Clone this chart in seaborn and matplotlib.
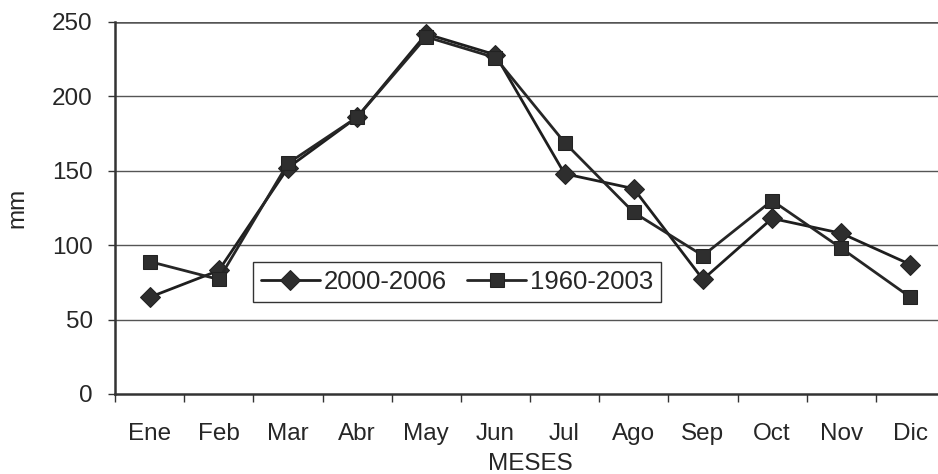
import matplotlib
matplotlib.use("Agg")
import matplotlib.pyplot as plt
import seaborn as sns
import pandas as pd
import numpy as np

meses = ["Ene", "Feb", "Mar", "Abr", "May", "Jun", "Jul", "Ago", "Sep", "Oct", "Nov", "Dic"]
serie_2000_2006 = [65, 83, 152, 186, 242, 228, 148, 138, 77, 118, 108, 87]
serie_1960_2003 = [89, 77, 155, 186, 240, 226, 169, 122, 93, 130, 98, 65]
etiquetas = ["2000-2006", "1960-2003"]
yticks = [0, 50, 100, 150, 200, 250]

sns.set_style("white")
plt.rcParams["font.family"] = ["Liberation Sans", "DejaVu Sans"]

df = pd.DataFrame({
    "mes": meses * 2,
    "pos": list(range(12)) * 2,
    "mm": serie_2000_2006 + serie_1960_2003,
    "serie": [etiquetas[0]] * 12 + [etiquetas[1]] * 12,
})

fig = plt.figure(figsize=(9.38, 4.74), dpi=100)
ax = fig.add_axes([115 / 938, 1 - 394 / 474, 830 / 938, 372 / 474])

sns.lineplot(
    data=df, x="pos", y="mm", hue="serie", style="serie",
    hue_order=etiquetas, style_order=etiquetas,
    palette={etiquetas[0]: "#1e1e1e", etiquetas[1]: "#262626"},
    markers={etiquetas[0]: "D", etiquetas[1]: "s"},
    dashes=False, linewidth=2.0, markersize=10,
    markeredgecolor="#222222", ax=ax, legend=True,
)
for ln in ax.lines:
    ln.set_markerfacecolor("#2e2e2e")

ax.set_xlim(-0.5, 11.5)
ax.set_ylim(0, 250)
ax.set_yticks(yticks)
ax.set_xticks(range(12))
ax.set_xticklabels(meses)
ax.set_xticks(np.arange(-0.5, 12, 1), minor=True)
ax.tick_params(axis="x", which="major", length=0, pad=21, labelsize=17.5)
ax.tick_params(axis="x", which="minor", length=6, width=1, color="#333333", direction="out", bottom=True)
ax.tick_params(axis="y", which="major", length=5, width=1, color="#333333", direction="out", left=True, pad=11, labelsize=17.5)

for y in yticks[1:]:
    ax.axhline(y, color="#555555", linewidth=1.0 if y < 250 else 1.8, zorder=0)

for side in ["top", "right"]:
    ax.spines[side].set_visible(False)
for side in ["left", "bottom"]:
    ax.spines[side].set_color("#333333")
    ax.spines[side].set_linewidth(1.8)

ax.set_xlabel("MESES", fontsize=17.5, labelpad=6)
ax.set_ylabel("mm", fontsize=17.5, va="center")
ax.yaxis.set_label_coords((17 - 115) / 830, (394 - 208) / 372)

handles, labels = ax.get_legend_handles_labels()
leg = ax.legend(
    handles, labels, ncol=2, loc="center",
    bbox_to_anchor=(457 / 938, 1 - 282 / 474), bbox_transform=fig.transFigure,
    fontsize=18.5, frameon=True, fancybox=False, framealpha=1,
    edgecolor="#333333", handlelength=2.3, handletextpad=0.15,
    columnspacing=0.8, borderpad=0.3,
)
leg.get_frame().set_linewidth(1.0)

fig.savefig("out.png", dpi=100)
